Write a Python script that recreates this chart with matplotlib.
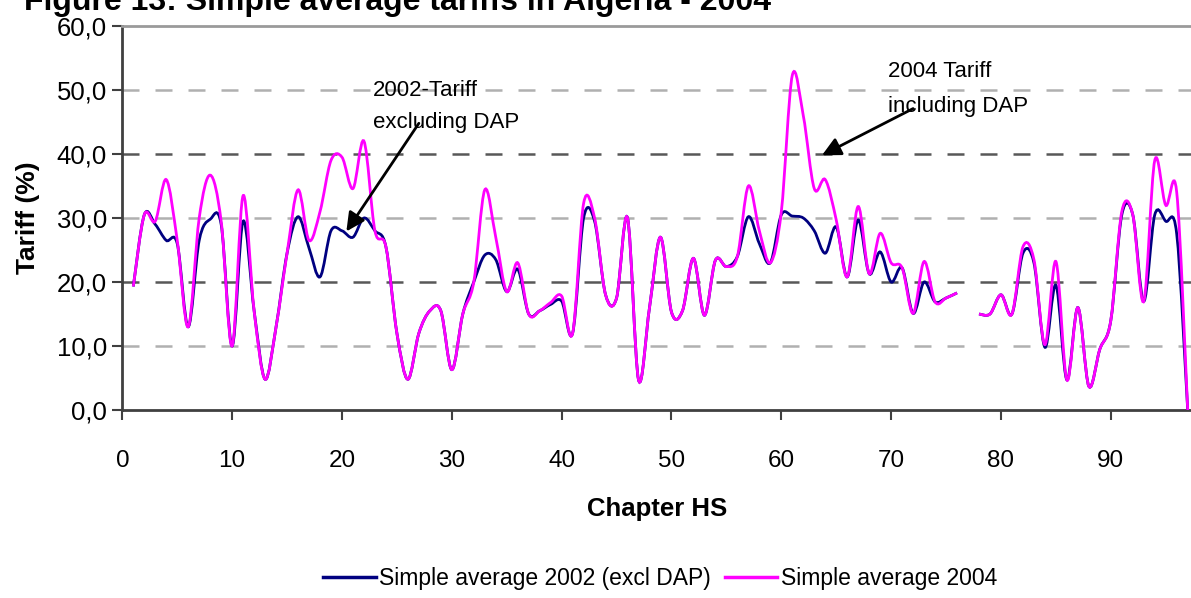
import matplotlib
matplotlib.use("Agg")
import matplotlib.pyplot as plt
import numpy as np
from matplotlib.lines import Line2D
from matplotlib.patches import PathPatch
from matplotlib.path import Path

plt.rcParams["font.family"] = ["Liberation Sans", "DejaVu Sans"]

# HS chapters 1..97 (chapter 77 does not exist -> gap)
chapters = np.arange(1, 98)

avg_2004 = [
    19.3, 30.5, 29.5, 36.0, 26.5, 13.0, 30.0, 36.7, 29.5, 10.0,    # 1-10
    33.5, 15.5, 4.8, 13.0, 24.5, 34.4, 26.5, 31.0, 39.0, 39.5,     # 11-20
    34.6, 42.0, 28.0, 25.5, 12.0, 4.8, 12.0, 15.5, 15.5, 6.3,      # 21-30
    15.0, 20.0, 34.4, 27.0, 18.5, 23.0, 15.0, 15.5, 16.8, 17.8,    # 31-40
    12.0, 32.3, 30.0, 18.0, 17.5, 30.0, 4.7, 16.0, 27.0, 15.3,     # 41-50
    15.5, 23.7, 14.8, 23.4, 22.4, 24.0, 35.0, 28.0, 23.0, 31.0,    # 51-60
    52.3, 46.0, 34.6, 36.0, 29.7, 20.8, 31.8, 21.3, 27.6, 23.0,    # 61-70
    22.2, 15.1, 23.2, 16.9, 17.5, 18.3, np.nan, 15.0, 15.0, 18.0,  # 71-80
    15.0, 25.5, 23.5, 10.2, 23.2, 4.7, 16.0, 3.7, 9.5, 14.0,       # 81-90
    31.0, 30.5, 17.0, 39.0, 32.0, 34.0, 0.0,                       # 91-97
]

avg_2002 = [
    19.3, 30.5, 29.0, 26.5, 26.0, 13.0, 26.5, 29.8, 29.0, 10.0,    # 1-10
    29.5, 15.5, 4.8, 13.0, 24.5, 30.2, 25.3, 20.8, 28.0, 28.0,     # 11-20
    27.0, 30.0, 28.0, 25.5, 12.0, 4.8, 12.0, 15.5, 15.5, 6.3,      # 21-30
    15.0, 20.0, 24.2, 23.5, 18.5, 22.0, 15.0, 15.5, 16.5, 17.0,    # 31-40
    12.0, 30.0, 29.5, 18.0, 17.5, 30.0, 4.7, 16.0, 27.0, 15.3,     # 41-50
    15.5, 23.7, 14.8, 23.4, 22.4, 24.0, 30.2, 26.0, 23.0, 30.5,    # 51-60
    30.3, 30.0, 28.0, 24.5, 28.6, 20.8, 29.7, 21.3, 24.7, 20.0,    # 61-70
    22.2, 15.1, 20.0, 16.9, 17.5, 18.3, np.nan, 15.0, 15.0, 18.0,  # 71-80
    15.0, 24.5, 23.0, 9.8, 19.5, 4.7, 16.0, 3.7, 9.5, 14.0,        # 81-90
    30.5, 30.5, 17.0, 30.5, 29.5, 27.5, 0.0,                       # 91-97
]

y_ticks = [0, 10, 20, 30, 40, 50, 60]
x_ticks = [0, 10, 20, 30, 40, 50, 60, 70, 80, 90]

NAVY = "#000080"
MAGENTA = "#FF00FF"


def smooth_path(x, y):
    """Excel-style smoothed line: cubic Bezier through each point, split at gaps."""
    x = np.asarray(x, float)
    y = np.asarray(y, float)
    verts, codes = [], []
    idx = np.where(~np.isnan(y))[0]
    runs = np.split(idx, np.where(np.diff(idx) != 1)[0] + 1)
    for run in runs:
        pts = np.column_stack([x[run], y[run]])
        n = len(pts)
        verts.append(pts[0]); codes.append(Path.MOVETO)
        for i in range(n - 1):
            p0 = pts[max(i - 1, 0)]
            p1 = pts[i]
            p2 = pts[i + 1]
            p3 = pts[min(i + 2, n - 1)]
            c1 = p1 + (p2 - p0) / 6.0
            c2 = p2 - (p3 - p1) / 6.0
            verts += [c1, c2, p2]
            codes += [Path.CURVE4] * 3
    return Path(np.array(verts), codes)


fig = plt.figure(figsize=(11.91, 5.98), dpi=100)
ax = fig.add_axes([0.1027, 0.3144, 0.8973, 0.6421])
ax.set_xlim(0, 97.3)
ax.set_ylim(0, 60)

# dashed gridlines (alternating light / dark as in the source)
for v in [10, 20, 30, 40, 50]:
    col = "#585858" if v in (20, 40) else "#b0b0b0"
    ax.axhline(v, color=col, lw=1.8, ls=(0, (6.8, 6.4)), zorder=1)

ax.add_patch(PathPatch(smooth_path(chapters, avg_2002), facecolor="none",
                       edgecolor=NAVY, lw=2.0, zorder=3))
ax.add_patch(PathPatch(smooth_path(chapters, avg_2004), facecolor="none",
                       edgecolor=MAGENTA, lw=2.0, zorder=4))

# spines
ax.spines["right"].set_visible(False)
ax.spines["top"].set_color("#9a9a9a")
ax.spines["top"].set_linewidth(2.0)
for s in ("left", "bottom"):
    ax.spines[s].set_color("#404040")
    ax.spines[s].set_linewidth(2.0)

ax.set_yticks(y_ticks)
ax.set_yticklabels([f"{v:.1f}".replace(".", ",") for v in y_ticks], fontsize=18.5)
ax.set_xticks(x_ticks)
ax.set_xticklabels([str(v) for v in x_ticks], fontsize=17.5)
ax.tick_params(axis="y", length=7, width=1.5, color="#404040", pad=4)
ax.tick_params(axis="x", length=7, width=1.5, color="#404040", pad=22)

ax.set_xlabel("Chapter HS", fontsize=18.5, fontweight="bold", labelpad=18)
ax.set_ylabel("Tariff (%)", fontsize=19, fontweight="bold", labelpad=12)

# annotations (one text per line, placed where the source puts them)
ax.text(22.85, 50.0, "2002-Tariff", fontsize=16, ha="left", va="center", zorder=5)
ax.text(22.85, 45.0, "excluding DAP", fontsize=16, ha="left", va="center", zorder=5)
ax.annotate("", xy=(20.4, 27.9), xytext=(27.0, 44.8),
            arrowprops=dict(arrowstyle="-|>", color="black", lw=2.0,
                            mutation_scale=28, shrinkA=0, shrinkB=0), zorder=6)

ax.text(69.7, 52.9, "2004 Tariff", fontsize=16, ha="left", va="center", zorder=5)
ax.text(69.7, 47.4, "including DAP", fontsize=16, ha="left", va="center", zorder=5)
ax.annotate("", xy=(63.7, 39.8), xytext=(72.0, 47.1),
            arrowprops=dict(arrowstyle="-|>", color="black", lw=2.0,
                            mutation_scale=28, shrinkA=0, shrinkB=0), zorder=6)

fig.text(0.02, 1 - 10 / 598, "Figure 13: Simple average tariffs in Algeria - 2004",
         fontsize=23, fontweight="bold", ha="left", va="baseline")

handles = [Line2D([], [], color=NAVY, lw=2.5),
           Line2D([], [], color=MAGENTA, lw=2.5)]
fig.legend(handles, ["Simple average 2002 (excl DAP)", "Simple average 2004"],
           loc="center", bbox_to_anchor=(660 / 1191, 1 - 579 / 598), ncol=2,
           frameon=False, fontsize=16.5, handlelength=2.3, handletextpad=0.15,
           columnspacing=0.6)

fig.savefig("out.png", dpi=100)
